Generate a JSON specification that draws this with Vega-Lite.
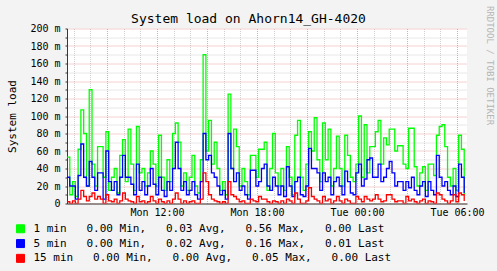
{
  "$schema": "https://vega.github.io/schema/vega-lite/v6.json",
  "width": 400,
  "height": 175,
  "autosize": {"type": "none"},
  "padding": {"left": 67, "top": 28.5, "right": 30, "bottom": 67.5},
  "background": "#F3F3F3",
  "title": {
    "text": "System load on Ahorn14_GH-4020",
    "font": "DejaVu Sans Mono",
    "fontSize": 13,
    "fontWeight": "normal",
    "color": "#000000",
    "anchor": "middle",
    "frame": "group",
    "dx": -18.5,
    "dy": 25,
    "offset": 4
  },
  "config": {
    "font": "DejaVu Sans Mono",
    "view": {"stroke": null, "fill": "#FFFFFF"}
  },
  "data": {
    "values": [
      {"t": "2024-01-15T06:36", "g": 53, "b": 30, "r": 2},
      {"t": "2024-01-15T06:46", "g": 10, "b": 20, "r": 0},
      {"t": "2024-01-15T06:56", "g": 25, "b": 20, "r": 3},
      {"t": "2024-01-15T07:06", "g": 8, "b": 5, "r": 0},
      {"t": "2024-01-15T07:16", "g": 62, "b": 32, "r": 5},
      {"t": "2024-01-15T07:26", "g": 107, "b": 68, "r": 15},
      {"t": "2024-01-15T07:36", "g": 80, "b": 30, "r": 8},
      {"t": "2024-01-15T07:46", "g": 20, "b": 20, "r": 3},
      {"t": "2024-01-15T07:56", "g": 130, "b": 48, "r": 8},
      {"t": "2024-01-15T08:06", "g": 45, "b": 30, "r": 12},
      {"t": "2024-01-15T08:16", "g": 20, "b": 15, "r": 5},
      {"t": "2024-01-15T08:26", "g": 65, "b": 35, "r": 8},
      {"t": "2024-01-15T08:36", "g": 65, "b": 35, "r": 5},
      {"t": "2024-01-15T08:46", "g": 30, "b": 5, "r": 0},
      {"t": "2024-01-15T08:56", "g": 82, "b": 60, "r": 10},
      {"t": "2024-01-15T09:06", "g": 15, "b": 25, "r": 3},
      {"t": "2024-01-15T09:16", "g": 30, "b": 15, "r": 2},
      {"t": "2024-01-15T09:26", "g": 40, "b": 25, "r": 5},
      {"t": "2024-01-15T09:36", "g": 12, "b": 10, "r": 0},
      {"t": "2024-01-15T09:46", "g": 55, "b": 30, "r": 3},
      {"t": "2024-01-15T09:56", "g": 73, "b": 55, "r": 12},
      {"t": "2024-01-15T10:06", "g": 25, "b": 30, "r": 5},
      {"t": "2024-01-15T10:16", "g": 85, "b": 30, "r": 3},
      {"t": "2024-01-15T10:26", "g": 45, "b": 22, "r": 2},
      {"t": "2024-01-15T10:36", "g": 15, "b": 10, "r": 0},
      {"t": "2024-01-15T10:46", "g": 88, "b": 45, "r": 8},
      {"t": "2024-01-15T10:56", "g": 35, "b": 15, "r": 2},
      {"t": "2024-01-15T11:06", "g": 40, "b": 25, "r": 3},
      {"t": "2024-01-15T11:16", "g": 20, "b": 10, "r": 0},
      {"t": "2024-01-15T11:26", "g": 35, "b": 20, "r": 2},
      {"t": "2024-01-15T11:36", "g": 60, "b": 40, "r": 8},
      {"t": "2024-01-15T11:46", "g": 45, "b": 22, "r": 3},
      {"t": "2024-01-15T11:56", "g": 20, "b": 10, "r": 0},
      {"t": "2024-01-15T12:06", "g": 78, "b": 30, "r": 5},
      {"t": "2024-01-15T12:16", "g": 30, "b": 15, "r": 2},
      {"t": "2024-01-15T12:26", "g": 15, "b": 8, "r": 0},
      {"t": "2024-01-15T12:36", "g": 50, "b": 25, "r": 3},
      {"t": "2024-01-15T12:46", "g": 25, "b": 15, "r": 0},
      {"t": "2024-01-15T12:56", "g": 80, "b": 40, "r": 5},
      {"t": "2024-01-15T13:06", "g": 92, "b": 70, "r": 12},
      {"t": "2024-01-15T13:16", "g": 70, "b": 40, "r": 5},
      {"t": "2024-01-15T13:26", "g": 20, "b": 15, "r": 0},
      {"t": "2024-01-15T13:36", "g": 35, "b": 25, "r": 3},
      {"t": "2024-01-15T13:46", "g": 15, "b": 10, "r": 0},
      {"t": "2024-01-15T13:56", "g": 30, "b": 15, "r": 2},
      {"t": "2024-01-15T14:06", "g": 55, "b": 25, "r": 3},
      {"t": "2024-01-15T14:16", "g": 20, "b": 10, "r": 0},
      {"t": "2024-01-15T14:26", "g": 12, "b": 5, "r": 0},
      {"t": "2024-01-15T14:36", "g": 50, "b": 25, "r": 5},
      {"t": "2024-01-15T14:46", "g": 170, "b": 80, "r": 35},
      {"t": "2024-01-15T14:56", "g": 60, "b": 50, "r": 25},
      {"t": "2024-01-15T15:06", "g": 95, "b": 55, "r": 10},
      {"t": "2024-01-15T15:16", "g": 45, "b": 35, "r": 5},
      {"t": "2024-01-15T15:26", "g": 70, "b": 30, "r": 3},
      {"t": "2024-01-15T15:36", "g": 40, "b": 20, "r": 2},
      {"t": "2024-01-15T15:46", "g": 15, "b": 10, "r": 0},
      {"t": "2024-01-15T15:56", "g": 25, "b": 15, "r": 2},
      {"t": "2024-01-15T16:06", "g": 10, "b": 5, "r": 0},
      {"t": "2024-01-15T16:16", "g": 125, "b": 80, "r": 25},
      {"t": "2024-01-15T16:26", "g": 40, "b": 40, "r": 10},
      {"t": "2024-01-15T16:36", "g": 85, "b": 25, "r": 8},
      {"t": "2024-01-15T16:46", "g": 65, "b": 35, "r": 5},
      {"t": "2024-01-15T16:56", "g": 20, "b": 15, "r": 2},
      {"t": "2024-01-15T17:06", "g": 40, "b": 20, "r": 3},
      {"t": "2024-01-15T17:16", "g": 25, "b": 10, "r": 0},
      {"t": "2024-01-15T17:26", "g": 10, "b": 5, "r": 0},
      {"t": "2024-01-15T17:36", "g": 55, "b": 38, "r": 5},
      {"t": "2024-01-15T17:46", "g": 55, "b": 38, "r": 3},
      {"t": "2024-01-15T17:56", "g": 30, "b": 20, "r": 2},
      {"t": "2024-01-15T18:06", "g": 62, "b": 25, "r": 8},
      {"t": "2024-01-15T18:16", "g": 62, "b": 40, "r": 5},
      {"t": "2024-01-15T18:26", "g": 70, "b": 45, "r": 5},
      {"t": "2024-01-15T18:36", "g": 15, "b": 20, "r": 2},
      {"t": "2024-01-15T18:46", "g": 40, "b": 15, "r": 0},
      {"t": "2024-01-15T18:56", "g": 80, "b": 30, "r": 3},
      {"t": "2024-01-15T19:06", "g": 35, "b": 20, "r": 2},
      {"t": "2024-01-15T19:16", "g": 20, "b": 10, "r": 0},
      {"t": "2024-01-15T19:26", "g": 40, "b": 20, "r": 3},
      {"t": "2024-01-15T19:36", "g": 15, "b": 8, "r": 0},
      {"t": "2024-01-15T19:46", "g": 65, "b": 42, "r": 5},
      {"t": "2024-01-15T19:56", "g": 30, "b": 20, "r": 3},
      {"t": "2024-01-15T20:06", "g": 10, "b": 8, "r": 0},
      {"t": "2024-01-15T20:16", "g": 78, "b": 25, "r": 12},
      {"t": "2024-01-15T20:26", "g": 95, "b": 30, "r": 5},
      {"t": "2024-01-15T20:36", "g": 30, "b": 10, "r": 0},
      {"t": "2024-01-15T20:46", "g": 15, "b": 8, "r": 0},
      {"t": "2024-01-15T20:56", "g": 45, "b": 20, "r": 3},
      {"t": "2024-01-15T21:06", "g": 82, "b": 63, "r": 18},
      {"t": "2024-01-15T21:16", "g": 60, "b": 40, "r": 8},
      {"t": "2024-01-15T21:26", "g": 98, "b": 40, "r": 5},
      {"t": "2024-01-15T21:36", "g": 50, "b": 35, "r": 3},
      {"t": "2024-01-15T21:46", "g": 25, "b": 15, "r": 0},
      {"t": "2024-01-15T21:56", "g": 92, "b": 35, "r": 8},
      {"t": "2024-01-15T22:06", "g": 50, "b": 25, "r": 3},
      {"t": "2024-01-15T22:16", "g": 85, "b": 30, "r": 5},
      {"t": "2024-01-15T22:26", "g": 20, "b": 10, "r": 0},
      {"t": "2024-01-15T22:36", "g": 40, "b": 25, "r": 3},
      {"t": "2024-01-15T22:46", "g": 77, "b": 30, "r": 8},
      {"t": "2024-01-15T22:56", "g": 40, "b": 20, "r": 3},
      {"t": "2024-01-15T23:06", "g": 20, "b": 10, "r": 0},
      {"t": "2024-01-15T23:16", "g": 78, "b": 37, "r": 5},
      {"t": "2024-01-15T23:26", "g": 55, "b": 25, "r": 3},
      {"t": "2024-01-15T23:36", "g": 30, "b": 12, "r": 0},
      {"t": "2024-01-15T23:46", "g": 25, "b": 10, "r": 0},
      {"t": "2024-01-15T23:56", "g": 45, "b": 35, "r": 8},
      {"t": "2024-01-16T00:06", "g": 100, "b": 45, "r": 5},
      {"t": "2024-01-16T00:16", "g": 30, "b": 20, "r": 2},
      {"t": "2024-01-16T00:26", "g": 90, "b": 28, "r": 8},
      {"t": "2024-01-16T00:36", "g": 35, "b": 50, "r": 5},
      {"t": "2024-01-16T00:46", "g": 65, "b": 52, "r": 3},
      {"t": "2024-01-16T00:56", "g": 65, "b": 30, "r": 5},
      {"t": "2024-01-16T01:06", "g": 82, "b": 30, "r": 10},
      {"t": "2024-01-16T01:16", "g": 95, "b": 45, "r": 5},
      {"t": "2024-01-16T01:26", "g": 45, "b": 25, "r": 2},
      {"t": "2024-01-16T01:36", "g": 75, "b": 30, "r": 3},
      {"t": "2024-01-16T01:46", "g": 67, "b": 40, "r": 10},
      {"t": "2024-01-16T01:56", "g": 85, "b": 48, "r": 10},
      {"t": "2024-01-16T02:06", "g": 85, "b": 35, "r": 5},
      {"t": "2024-01-16T02:16", "g": 60, "b": 20, "r": 2},
      {"t": "2024-01-16T02:26", "g": 66, "b": 25, "r": 3},
      {"t": "2024-01-16T02:36", "g": 66, "b": 25, "r": 3},
      {"t": "2024-01-16T02:46", "g": 45, "b": 15, "r": 0},
      {"t": "2024-01-16T02:56", "g": 40, "b": 25, "r": 8},
      {"t": "2024-01-16T03:06", "g": 86, "b": 18, "r": 3},
      {"t": "2024-01-16T03:16", "g": 86, "b": 30, "r": 5},
      {"t": "2024-01-16T03:26", "g": 42, "b": 15, "r": 2},
      {"t": "2024-01-16T03:36", "g": 20, "b": 10, "r": 0},
      {"t": "2024-01-16T03:46", "g": 35, "b": 20, "r": 3},
      {"t": "2024-01-16T03:56", "g": 42, "b": 25, "r": 5},
      {"t": "2024-01-16T04:06", "g": 15, "b": 8, "r": 0},
      {"t": "2024-01-16T04:16", "g": 45, "b": 25, "r": 3},
      {"t": "2024-01-16T04:26", "g": 45, "b": 15, "r": 2},
      {"t": "2024-01-16T04:36", "g": 32, "b": 10, "r": 0},
      {"t": "2024-01-16T04:46", "g": 78, "b": 55, "r": 12},
      {"t": "2024-01-16T04:56", "g": 88, "b": 30, "r": 10},
      {"t": "2024-01-16T05:06", "g": 90, "b": 20, "r": 5},
      {"t": "2024-01-16T05:16", "g": 65, "b": 25, "r": 3},
      {"t": "2024-01-16T05:26", "g": 30, "b": 15, "r": 0},
      {"t": "2024-01-16T05:36", "g": 20, "b": 10, "r": 3},
      {"t": "2024-01-16T05:46", "g": 40, "b": 20, "r": 10},
      {"t": "2024-01-16T05:56", "g": 15, "b": 8, "r": 2},
      {"t": "2024-01-16T06:06", "g": 78, "b": 45, "r": 12},
      {"t": "2024-01-16T06:16", "g": 62, "b": 30, "r": 10},
      {"t": "2024-01-16T06:26", "g": 10, "b": 12, "r": 3}
    ]
  },
  "transform": [{"fold": ["g", "b", "r"], "as": ["series", "value"]}],
  "encoding": {
    "x": {
      "field": "t",
      "type": "temporal",
      "scale": {
        "domain": [
          {"year": 2024, "month": 1, "date": 15, "hours": 6, "minutes": 36},
          {"year": 2024, "month": 1, "date": 16, "hours": 6, "minutes": 36}
        ],
        "nice": false
      },
      "axis": {
        "title": null,
        "tickCount": 24,
        "labelExpr": "hours(datum.value) % 6 == 0 ? timeFormat(datum.value, '%a %H:%M') : ''",
        "labelFont": "DejaVu Sans Mono",
        "labelFontSize": 10,
        "labelColor": "#000000",
        "labelOverlap": false,
        "labelFlush": false,
        "labelPadding": 4,
        "ticks": false,
        "domainColor": "#383838",
        "grid": true,
        "gridColor": {"condition": {"test": "hours(datum.value) % 3 == 0", "value": "#EBA5A5"}, "value": "#D0D0D0"},
        "gridDash": [1, 1]
      }
    },
    "color": {
      "field": "series",
      "type": "nominal",
      "scale": {"domain": ["g", "b", "r"], "range": ["#00FF00", "#0000FF", "#FF0000"]},
      "legend": null
    }
  },
  "layer": [
    {
      "transform": [{"filter": "datum.series == 'none'"}],
      "mark": {"type": "point", "shape": "square", "filled": true},
      "encoding": {
        "y": {
          "field": "value",
          "type": "quantitative",
          "scale": {"domain": [0, 200], "nice": false},
          "axis": null
        },
        "stroke": {"value": "#000000"},
        "strokeWidth": {"value": 1},
        "fill": {
          "field": "series",
          "type": "nominal",
          "scale": {"domain": ["g", "b", "r"], "range": ["#00FF00", "#0000FF", "#FF0000"]},
          "legend": {
            "orient": "none",
            "legendX": -52,
            "legendY": 194.75,
            "direction": "vertical",
            "title": null,
            "padding": 0,
            "symbolType": "square",
            "symbolSize": 64,
            "symbolStrokeColor": "#000000",
            "symbolStrokeWidth": 1,
            "symbolOpacity": 1,
            "labelFont": "DejaVu Sans Mono",
            "labelFontSize": 11,
            "labelColor": "#000000",
            "labelLimit": 600,
            "labelOffset": 7.5,
            "rowPadding": 1.8,
            "labelExpr": "datum.label == 'g' ? '\u00a01\u00a0min\u00a0\u00a0\u00a00.00\u00a0Min,\u00a0\u00a0\u00a00.03\u00a0Avg,\u00a0\u00a0\u00a00.56\u00a0Max,\u00a0\u00a0\u00a00.00\u00a0Last' : datum.label == 'b' ? '\u00a05\u00a0min\u00a0\u00a0\u00a00.00\u00a0Min,\u00a0\u00a0\u00a00.02\u00a0Avg,\u00a0\u00a0\u00a00.16\u00a0Max,\u00a0\u00a0\u00a00.01\u00a0Last' : '15\u00a0min\u00a0\u00a0\u00a00.00\u00a0Min,\u00a0\u00a0\u00a00.00\u00a0Avg,\u00a0\u00a0\u00a00.05\u00a0Max,\u00a0\u00a0\u00a00.00\u00a0Last'"
          }
        }
      }
    },
    {
      "transform": [{"filter": "datum.series == 'g'"}],
      "mark": {"type": "line", "interpolate": "step-after", "strokeWidth": 1.3, "clip": true},
      "encoding": {
        "y": {
          "field": "value",
          "type": "quantitative",
          "scale": {"domain": [0, 200], "nice": false},
          "axis": {
            "orient": "left",
            "title": "System load",
            "titleFont": "DejaVu Sans Mono",
            "titleFontSize": 11,
            "titleFontWeight": "normal",
            "titleColor": "#000000",
            "titleAngle": 270,
            "titleX": -55,
            "titleY": 87.5,
            "titleAlign": "center",
            "titleBaseline": "middle",
            "values": [0, 10, 20, 30, 40, 50, 60, 70, 80, 90, 100, 110, 120, 130, 140, 150, 160, 170, 180, 190, 200],
            "labelExpr": "datum.value == 0 ? '0\u00a0\u00a0' : (datum.value % 20 == 0 ? datum.value + '\u00a0m' : '')",
            "labelFont": "DejaVu Sans Mono",
            "labelFontSize": 10,
            "labelColor": "#000000",
            "labelPadding": 5,
            "labelOverlap": false,
            "labelFlush": false,
            "tickSize": 2,
            "tickColor": "#383838",
            "domainColor": "#383838",
            "grid": true,
            "gridColor": {"condition": {"test": "datum.value % 20 == 0", "value": "#EBA5A5"}, "value": "#D0D0D0"},
            "gridDash": [1, 1]
          }
        }
      }
    },
    {
      "transform": [{"filter": "datum.series == 'b'"}],
      "mark": {"type": "line", "interpolate": "step-after", "strokeWidth": 1.3, "clip": true},
      "encoding": {
        "y": {
          "field": "value",
          "type": "quantitative",
          "scale": {"domain": [0, 200], "nice": false},
          "axis": null
        }
      }
    },
    {
      "transform": [{"filter": "datum.series == 'r'"}],
      "mark": {"type": "line", "interpolate": "step-after", "strokeWidth": 1.3, "clip": true},
      "encoding": {
        "y": {
          "field": "value",
          "type": "quantitative",
          "scale": {"domain": [0, 200], "nice": false},
          "axis": {
            "orient": "right",
            "title": "RRDTOOL / TOBI OETIKER",
            "titleFont": "DejaVu Sans Mono",
            "titleFontSize": 9,
            "titleFontWeight": "normal",
            "titleColor": "#B5B5B5",
            "titleAngle": 90,
            "titleX": 22,
            "titleY": 36.5,
            "titleAlign": "center",
            "titleBaseline": "middle",
            "labels": false,
            "ticks": false,
            "domain": false,
            "grid": false
          }
        }
      }
    }
  ],
  "resolve": {"scale": {"y": "independent"}}
}
